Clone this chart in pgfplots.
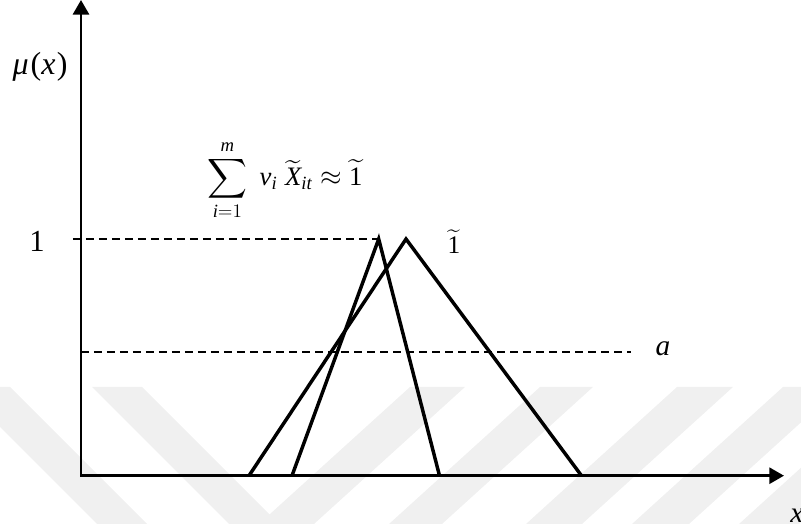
\documentclass[border=0pt]{standalone}
\usepackage{amsmath}
\usepackage{exscale}
\usepackage{fontspec}
\setmainfont{Liberation Serif}
\usepackage{pgfplots}
\pgfplotsset{compat=1.18}
\usetikzlibrary{arrows.meta}
\definecolor{wmgray}{RGB}{240,240,240}

\begin{document}
\begin{tikzpicture}
% faint watermark bands (pixel grid of the 801x524 page)
\begin{scope}[x=0.75pt, y=-0.75pt, shift={(-60.75pt,356.775pt)}]
  \clip (0,387) rectangle (801,524);
  \fill[wmgray] (-40,387) -- (10,387) -- (147,524) -- (97,524) -- cycle;
  \fill[wmgray] (92,387) -- (142,387) -- (279,524) -- (229,524) -- cycle;
  \fill[wmgray] (410,387) -- (465,387) -- (314,524) -- (259,524) -- cycle;
  \fill[wmgray] (540,387) -- (593,387) -- (442,524) -- (389,524) -- cycle;
  \fill[wmgray] (677,387) -- (733,387) -- (582,524) -- (526,524) -- cycle;
  \fill[wmgray] (783,387) -- (840,387) -- (689,524) -- (632,524) -- cycle;
  \fill[wmgray] (890,387) -- (950,387) -- (799,524) -- (739,524) -- cycle;
\end{scope}

\begin{axis}[
  scale only axis,
  width=527.25pt, height=356.8pt,
  xmin=0, xmax=7.03, ymin=0, ymax=2.01,
  axis lines=none,
  clip=false,
]
% membership levels
\addplot[black, line width=1.3pt, dash pattern=on 6pt off 3.75pt]
  coordinates {(-0.08,1)(2.977,1)};
\addplot[black, line width=1.3pt, dash pattern=on 6pt off 3.75pt]
  coordinates {(0,0.524)(5.5,0.524)};
% triangular fuzzy numbers
\addplot[black, line width=2.6pt, line join=miter]
  coordinates {(2.11,0)(2.977,1)(3.585,0)};
\addplot[black, line width=2.6pt, line join=miter]
  coordinates {(1.68,0)(3.25,1)(5.005,0)};

% axes
\draw[line width=2.2pt, line join=miter,
  {Triangle[length=11pt,width=12pt]}-{Triangle[length=11pt,width=12pt]}]
  (axis cs:0,2.01) -- (axis cs:0,0) -- (axis cs:7.03,0);

% labels
\node[font=\fontsize{24}{28}\selectfont] at (axis cs:-0.41,1.727)
  {\textit{μ}\kern1.5pt(\textit{x}\kern1pt)};
\node[font=\fontsize{23}{27}\selectfont] at (axis cs:-0.44,0.99) {1};
\node[font=\fontsize{22}{26}\selectfont] at (axis cs:5.82,0.538) {\textit{a}};
\node[font=\fontsize{22}{26}\selectfont] at (axis cs:7.16,-0.17) {\textit{x}};
\node[font=\fontsize{19}{22}\selectfont] at (axis cs:3.73,0.99)
  {$\widetilde{\mathrm{1}}$};
\node[font=\fontsize{20}{24}\selectfont] at (axis cs:2.04,1.249)
  {$\displaystyle\sum_{\mathit{i}=1}^{\mathit{m}}\;\mathit{v}_{\mathit{i}}\;\widetilde{\mathit{X}}_{\mathit{it}}\approx\widetilde{\mathrm{1}}$};
\end{axis}
\pgfresetboundingbox
\path[use as bounding box] (-60.75pt,-36.225pt) rectangle (540pt,356.775pt);
\end{tikzpicture}
\end{document}
